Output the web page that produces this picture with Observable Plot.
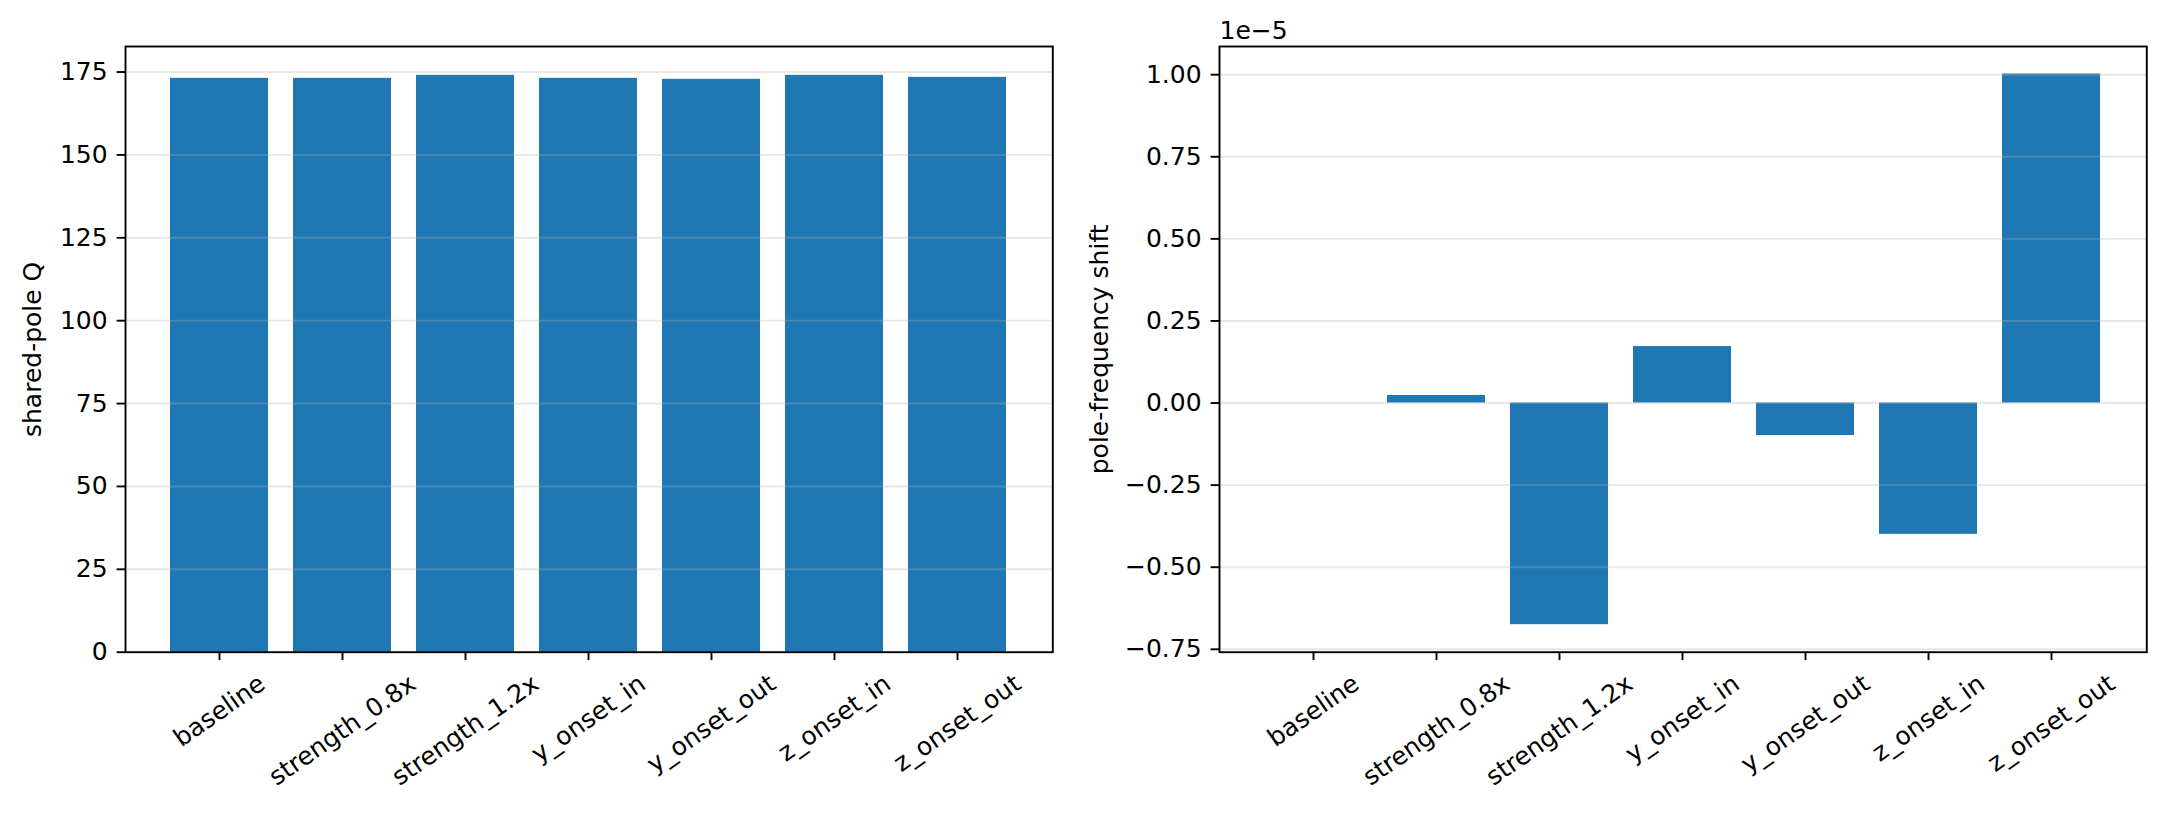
<!DOCTYPE html>
<html>
<head>
<meta charset="utf-8">
<script src="https://cdn.jsdelivr.net/npm/d3@7"></script>
<script src="https://cdn.jsdelivr.net/npm/@observablehq/plot@0.6"></script>
<style>
  html, body { margin: 0; padding: 0; background: white; }
  #wrap { width: 2164px; height: 814px; display: flex; flex-direction: row; }
  #wrap svg { display: block; }
</style>
</head>
<body>
<div id="wrap"></div>
<script>
// ---- data ----
const categories = ["baseline", "strength_0.8x", "strength_1.2x", "y_onset_in", "y_onset_out", "z_onset_in", "z_onset_out"];
const sharedPoleQ = [173.1, 173.1, 174.0, 173.1, 172.8, 174.0, 173.4];
const poleFreqShift = [0, 2.3e-7, -6.75e-6, 1.72e-6, -9.9e-7, -4.0e-6, 1.002e-5];
const leftTicks = [0, 25, 50, 75, 100, 125, 150, 175];
const rightTicks = [-0.75e-5, -0.5e-5, -0.25e-5, 0, 0.25e-5, 0.5e-5, 0.75e-5, 1.0e-5];
const leftYLabel = "shared-pole Q";
const rightYLabel = "pole-frequency shift";
const offsetText = "1e\u22125";

// ---- styling ----
const FONT = "DejaVu Sans";
const FS = 25;
const BLUE = "#1f77b4";
const LW = 1.9;
const TICK = 8.4;
const PAD = 8.4;
const W = 1082, H = 814;

const ctx = document.createElement("canvas").getContext("2d");
ctx.font = `${FS}px "${FONT}"`;
const th = 35 * Math.PI / 180;
const lineH = FS * 1.164;

function labelMarks() {
  return categories.map(c => {
    const w = ctx.measureText(c).width;
    const dy = TICK + PAD + (w * Math.sin(th) + lineH * Math.cos(th)) / 2;
    return Plot.text([c], {
      x: d => d, frameAnchor: "bottom", dy,
      rotate: -35, textAnchor: "middle", lineAnchor: "middle",
      fontSize: FS, fill: "black"
    });
  });
}

function minus(s) { return s.replace(/^-/, "\u2212"); }

function chart({values, ticks, tickFormat, domain, label, labelDx, marginLeft, marginRight, extra = []}) {
  const data = categories.map((c, i) => ({cat: c, v: values[i]}));
  return Plot.plot({
    width: W, height: H,
    marginLeft, marginRight, marginTop: 46, marginBottom: H - 651.7,
    style: {fontFamily: FONT, fontSize: FS + "px", background: "white", color: "black"},
    x: {type: "band", domain: categories, paddingInner: 0.2, paddingOuter: 0.34, axis: null},
    y: {domain, axis: null},
    marks: [
      Plot.barY(data, {x: "cat", y: "v", fill: BLUE, inset: 0}),
      Plot.gridY(ticks, {stroke: "#b0b0b0", strokeOpacity: 0.3, strokeWidth: LW}),
      Plot.axisY({ticks, tickFormat, tickSize: TICK, tickPadding: 9.5, strokeWidth: LW, fontSize: FS, label: null}),
      Plot.axisX({tickSize: TICK, tickFormat: () => "", strokeWidth: LW, label: null}),
      Plot.frame({stroke: "black", strokeWidth: LW}),
      ...labelMarks(),
      Plot.text([label], {frameAnchor: "left", dx: labelDx, rotate: -90, textAnchor: "middle", lineAnchor: "middle", fontSize: FS, fill: "black"}),
      ...extra
    ]
  });
}

const qMax = d3.max(sharedPoleQ);
const left = chart({
  values: sharedPoleQ,
  ticks: leftTicks,
  tickFormat: d => String(d),
  domain: [0, qMax * 1.05],
  label: leftYLabel, labelDx: -93,
  marginLeft: 125, marginRight: W - 1052.3
});

const fMin = Math.min(0, d3.min(poleFreqShift)), fMax = Math.max(0, d3.max(poleFreqShift));
const fPad = (fMax - fMin) * 0.05;
const right = chart({
  values: poleFreqShift,
  ticks: rightTicks,
  tickFormat: d => minus((d / 1e-5).toFixed(2)),
  domain: [fMin - fPad, fMax + fPad],
  label: rightYLabel, labelDx: -120,
  marginLeft: 1219 - W, marginRight: 2164 - 2146.3,
  extra: [Plot.text([offsetText], {frameAnchor: "top-left", textAnchor: "start", lineAnchor: "bottom", dx: 0, dy: -8, fontSize: FS, fill: "black"})]
});

document.getElementById("wrap").append(left, right);
</script>
</body>
</html>
